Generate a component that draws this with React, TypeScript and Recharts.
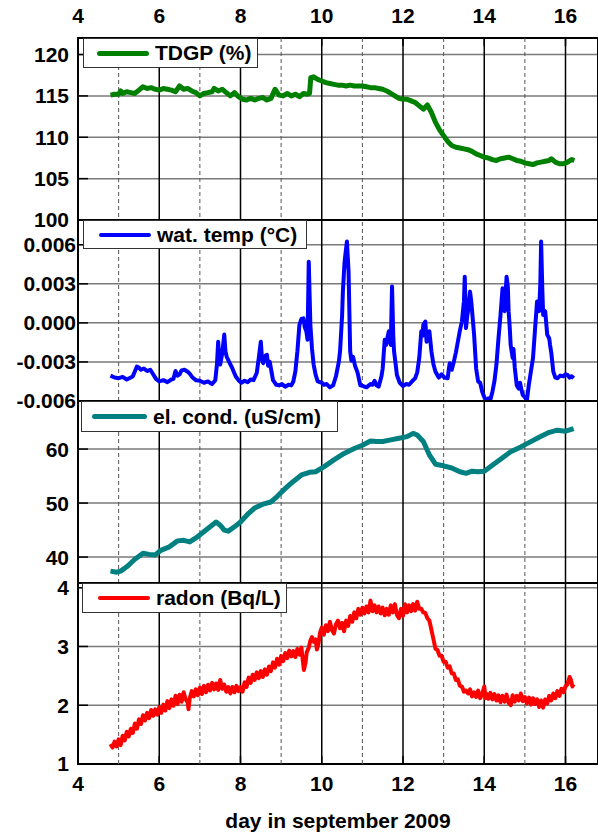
import {
  LineChart,
  Line,
  XAxis,
  YAxis,
  CartesianGrid,
  ReferenceLine,
  ReferenceArea,
  Legend,
} from "recharts";

const W = 598;
const H = 833;
const FONT = "'Liberation Sans', Arial, Helvetica, sans-serif";

const dayTicks = [4, 6, 8, 10, 12, 14, 16];
const oddDays = [5, 7, 9, 11, 13, 15];
const evenDays = [6, 8, 10, 12, 14, 16];
const xDomain: [number, number] = [4, 16.8];

// TDGP (%)
const tdgpDays = [
  4.8, 4.9, 5.0, 5.05, 5.1, 5.2, 5.3, 5.4, 5.5, 5.6, 5.7, 5.8, 5.9, 6.0, 6.1, 6.2, 6.3, 6.4, 6.5, 6.6,
  6.7, 6.8, 6.9, 7.0, 7.1, 7.2, 7.3, 7.35, 7.45, 7.55, 7.65, 7.75, 7.85, 7.95, 8.05, 8.15, 8.25, 8.35,
  8.45, 8.55, 8.65, 8.75, 8.85, 8.95, 9.05, 9.15, 9.25, 9.35, 9.45, 9.55, 9.65, 9.7, 9.73, 9.8, 9.9,
  10.0, 10.1, 10.2, 10.3, 10.4, 10.5, 10.6, 10.7, 10.8, 10.9, 11.0, 11.1, 11.2, 11.3, 11.4, 11.5, 11.6,
  11.7, 11.8, 11.9, 12.0, 12.1, 12.2, 12.3, 12.4, 12.5, 12.6, 12.7, 12.8, 12.9, 13.0, 13.1, 13.2, 13.3,
  13.4, 13.5, 13.6, 13.7, 13.8, 13.9, 14.0, 14.1, 14.2, 14.3, 14.4, 14.5, 14.6, 14.7, 14.8, 14.9, 15.0,
  15.1, 15.2, 15.3, 15.4, 15.5, 15.6, 15.65, 15.75, 15.85, 15.95, 16.05, 16.15, 16.22,
];
const tdgpValues = [
  115.1, 115.2, 115.2, 115.6, 115.3, 115.5, 115.4, 115.3, 115.7, 116.1, 115.9, 116.0, 115.8, 115.7,
  115.9, 115.8, 115.7, 115.5, 116.2, 115.8, 115.9, 115.6, 115.4, 115.0, 115.3, 115.4, 115.5, 115.9,
  115.6, 115.8, 115.4, 115.0, 115.4, 114.9, 114.6, 114.5, 114.7, 114.5, 114.7, 114.8, 114.5, 114.7,
  115.8, 115.1, 115.0, 115.3, 115.0, 115.2, 114.9, 115.3, 115.2, 115.3, 117.2, 117.3, 117.0, 116.8,
  116.6, 116.5, 116.4, 116.3, 116.3, 116.2, 116.3, 116.2, 116.2, 116.2, 116.1, 116.0, 116.0, 115.9,
  115.8, 115.6, 115.3, 115.0, 114.7, 114.6, 114.6, 114.4, 114.2, 113.8, 113.4, 113.9, 113.0, 111.8,
  110.9, 110.2, 109.5, 109.0, 108.8, 108.7, 108.6, 108.5, 108.3, 108.0, 107.8, 107.6, 107.5, 107.3,
  107.2, 107.4, 107.5, 107.6, 107.4, 107.2, 107.1, 106.9, 106.8, 106.7, 106.9, 107.0, 107.1, 107.2,
  107.4, 107.0, 106.8, 106.8, 107.0, 107.3, 107.2,
];

// water temperature, in units of 0.001 °C
const wtDays = [
  4.8, 4.9, 5.0, 5.1, 5.2, 5.3, 5.35, 5.45, 5.5, 5.55,
  5.62, 5.7, 5.78, 5.85, 5.92, 6.0, 6.1, 6.2, 6.3, 6.35,
  6.4, 6.45, 6.5, 6.55, 6.62, 6.7, 6.75, 6.82, 6.9, 7.0,
  7.1, 7.2, 7.3, 7.38, 7.42, 7.45, 7.48, 7.5, 7.55, 7.6,
  7.63, 7.66, 7.72, 7.8, 7.88, 7.95, 8.02, 8.1, 8.18, 8.25,
  8.32, 8.4, 8.45, 8.5, 8.53, 8.56, 8.62, 8.65, 8.68, 8.72,
  8.8, 8.88, 8.95, 9.02, 9.1, 9.18, 9.25, 9.3, 9.35, 9.4,
  9.45, 9.5, 9.55, 9.58, 9.62, 9.65, 9.68, 9.72, 9.76, 9.8,
  9.85, 9.9, 10.0, 10.05, 10.12, 10.2, 10.28, 10.35, 10.42, 10.45,
  10.5, 10.52, 10.56, 10.58, 10.62, 10.66, 10.7, 10.73, 10.77, 10.82,
  10.88, 10.95, 11.02, 11.1, 11.2, 11.25, 11.3, 11.35, 11.4, 11.47,
  11.5, 11.55, 11.58, 11.6, 11.65, 11.68, 11.7, 11.73, 11.76, 11.78,
  11.82, 11.85, 11.92, 12.0, 12.08, 12.15, 12.22, 12.3, 12.35, 12.4,
  12.45, 12.48, 12.5, 12.55, 12.58, 12.6, 12.65, 12.7, 12.75, 12.8,
  12.88, 12.95, 13.02, 13.1, 13.13, 13.15, 13.2, 13.25, 13.3, 13.35,
  13.4, 13.45, 13.5, 13.52, 13.55, 13.58, 13.6, 13.65, 13.68, 13.72,
  13.75, 13.8, 13.85, 13.9, 13.95, 14.0, 14.05, 14.1, 14.15, 14.2,
  14.25, 14.3, 14.35, 14.4, 14.45, 14.48, 14.5, 14.55, 14.58, 14.6,
  14.63, 14.65, 14.7, 14.72, 14.75, 14.8, 14.85, 14.88, 14.92, 14.95,
  15.0, 15.05, 15.08, 15.1, 15.15, 15.2, 15.25, 15.3, 15.35, 15.38,
  15.4, 15.43, 15.45, 15.5, 15.55, 15.6, 15.62, 15.65, 15.7, 15.75,
  15.8, 15.87, 15.95, 16.0, 16.05, 16.1, 16.15, 16.2,
];
const wtValues = [
  -4.05, -4.2, -4.25, -4.15, -4.35, -4.2, -4.1, -3.35, -3.45, -3.6,
  -3.5, -3.7, -3.6, -3.95, -4.3, -4.5, -4.4, -4.55, -4.35, -4.3,
  -3.7, -4.05, -3.95, -3.65, -3.6, -3.75, -3.9, -4.2, -4.4, -4.45,
  -4.6, -4.5, -4.7, -4.4, -3.2, -1.45, -2.9, -3.2, -2.35, -0.9,
  -2.2, -2.6, -3.0, -3.5, -4.1, -4.4, -4.6, -4.45, -4.55, -4.35,
  -4.4, -3.85, -2.7, -1.45, -2.8, -3.1, -2.5, -2.45, -3.3, -3.0,
  -4.4, -4.75, -4.8, -4.7, -4.9, -4.75, -4.8, -4.5, -3.75, -2.2,
  -0.15, 0.3, 0.35, -0.3, -0.65, -1.3, 4.7, -0.15, -2.0, -3.2,
  -4.0, -4.5, -4.6, -4.75, -4.7, -4.95, -4.8, -4.1, -3.0, -2.2,
  0.5, 2.4, 4.6, 5.2, 6.25, 3.95, -2.2, -2.9, -2.6, -3.3,
  -3.8, -4.8, -4.85, -4.95, -4.7, -4.75, -4.45, -4.8, -4.9, -4.1,
  -3.5, -1.3, -1.7, -1.4, -0.65, -1.5, -1.7, 2.8, -1.0, -2.2,
  -3.2, -4.0, -4.6, -4.85, -4.7, -4.75, -4.5, -4.25, -3.8, -2.7,
  -0.65, -1.0, -0.15, 0.1, -1.45, -1.0, -0.65, -2.2, -3.2, -3.75,
  -4.2, -3.95, -4.2, -4.25, -3.5, -3.1, -3.6, -3.0, -2.3, -1.45,
  -0.6, 0.1, 1.65, 3.55, -0.4, 0.5, 0.9, 2.4, 1.65, 0.2,
  -0.9, -3.5, -4.5, -4.6, -5.3, -5.7, -5.95, -5.8, -5.9, -5.3,
  -4.5, -3.2, -1.2, 0.6, 2.65, 1.5, 0.9, 3.55, 2.8, 0.9,
  -0.5, -1.7, -2.7, -2.0, -3.4, -4.8, -5.05, -4.6, -5.2, -5.55,
  -5.7, -5.95, -5.2, -4.7, -3.7, -2.7, -0.5, 1.65, 0.9, 3.0,
  6.25, 2.5, 0.6, 0.9, -0.9, -1.2, -1.7, -2.3, -3.75, -4.2,
  -4.25, -4.05, -4.1, -3.95, -4.0, -4.2, -4.1, -4.25,
];

// electrical conductivity (uS/cm)
const ecDays = [
  4.8, 4.95, 5.05, 5.2, 5.4, 5.6, 5.75, 5.9, 6.05, 6.25, 6.45, 6.6, 6.75, 6.95, 7.15, 7.3, 7.4, 7.5,
  7.6, 7.7, 7.85, 8.0, 8.2, 8.35, 8.55, 8.75, 8.9, 9.1, 9.3, 9.5, 9.7, 9.85, 10.05, 10.3, 10.55, 10.8,
  11.0, 11.2, 11.35, 11.5, 11.7, 11.9, 12.1, 12.25, 12.35, 12.5, 12.65, 12.8, 13.0, 13.2, 13.4, 13.55,
  13.7, 13.85, 14.0, 14.2, 14.45, 14.65, 14.9, 15.1, 15.35, 15.6, 15.8, 16.0, 16.2,
];
const ecValues = [
  37.4, 37.2, 37.4, 38.2, 39.6, 40.7, 40.5, 40.4, 41.3, 41.9, 43.0, 43.1, 42.8, 43.8, 45.0, 45.9, 46.5,
  45.9, 45.0, 44.8, 45.6, 46.5, 48.1, 49.1, 49.8, 50.2, 51.2, 52.7, 54.0, 55.2, 55.7, 55.8, 56.7, 58.0,
  59.2, 60.1, 60.7, 61.5, 61.4, 61.4, 61.7, 62.0, 62.3, 62.9, 62.6, 61.4, 58.9, 57.2, 56.9, 56.5, 55.8,
  55.5, 55.9, 55.8, 55.9, 57.0, 58.4, 59.5, 60.4, 61.2, 62.2, 63.1, 63.5, 63.3, 63.8,
];

// radon (Bq/L)
const rnDays = [
  4.8, 4.85, 4.9, 4.95, 5.0, 5.05, 5.1, 5.15, 5.2, 5.25,
  5.3, 5.35, 5.4, 5.45, 5.5, 5.55, 5.6, 5.65, 5.7, 5.75,
  5.8, 5.85, 5.9, 5.95, 6.0, 6.05, 6.1, 6.15, 6.2, 6.25,
  6.3, 6.35, 6.4, 6.45, 6.5, 6.55, 6.6, 6.65, 6.7, 6.72,
  6.75, 6.8, 6.85, 6.9, 6.95, 7.0, 7.05, 7.1, 7.15, 7.2,
  7.25, 7.3, 7.35, 7.4, 7.45, 7.5, 7.55, 7.6, 7.65, 7.7,
  7.75, 7.8, 7.85, 7.9, 7.95, 8.0, 8.05, 8.1, 8.15, 8.2,
  8.25, 8.3, 8.35, 8.4, 8.45, 8.5, 8.55, 8.6, 8.65, 8.7,
  8.75, 8.8, 8.85, 8.9, 8.95, 9.0, 9.05, 9.1, 9.15, 9.2,
  9.25, 9.3, 9.35, 9.4, 9.45, 9.5, 9.53, 9.56, 9.6, 9.63,
  9.68, 9.72, 9.76, 9.8, 9.85, 9.88, 9.92, 9.96, 10.0, 10.05,
  10.1, 10.15, 10.2, 10.25, 10.3, 10.35, 10.4, 10.45, 10.5, 10.55,
  10.6, 10.65, 10.7, 10.75, 10.8, 10.85, 10.9, 10.95, 11.0, 11.05,
  11.1, 11.15, 11.2, 11.25, 11.3, 11.35, 11.4, 11.45, 11.5, 11.55,
  11.6, 11.65, 11.7, 11.75, 11.8, 11.85, 11.9, 11.95, 12.0, 12.05,
  12.1, 12.15, 12.2, 12.25, 12.3, 12.35, 12.4, 12.45, 12.5, 12.55,
  12.6, 12.65, 12.7, 12.75, 12.8, 12.85, 12.9, 12.95, 13.0, 13.05,
  13.1, 13.15, 13.2, 13.25, 13.3, 13.35, 13.4, 13.45, 13.5, 13.55,
  13.6, 13.65, 13.7, 13.75, 13.8, 13.85, 13.9, 13.95, 14.0, 14.03,
  14.05, 14.1, 14.15, 14.2, 14.25, 14.3, 14.35, 14.4, 14.45, 14.5,
  14.55, 14.6, 14.65, 14.7, 14.75, 14.8, 14.85, 14.9, 14.95, 15.0,
  15.05, 15.1, 15.15, 15.2, 15.25, 15.3, 15.35, 15.4, 15.45, 15.5,
  15.55, 15.6, 15.65, 15.7, 15.75, 15.8, 15.85, 15.9, 15.95, 16.0,
  16.05, 16.1, 16.13, 16.17, 16.2,
];
const rnValues = [
  1.34, 1.28, 1.38, 1.3, 1.42, 1.32, 1.48, 1.4, 1.55, 1.47,
  1.6, 1.53, 1.69, 1.6, 1.76, 1.68, 1.83, 1.74, 1.87, 1.78,
  1.92, 1.82, 1.93, 1.84, 1.97, 1.87, 2.01, 1.91, 2.07, 1.95,
  2.1, 1.99, 2.16, 2.02, 2.18, 2.06, 2.22, 2.1, 2.05, 1.93,
  2.12, 2.24, 2.15, 2.27, 2.17, 2.3, 2.19, 2.33, 2.22, 2.35,
  2.25, 2.38, 2.27, 2.37, 2.26, 2.43, 2.28, 2.35, 2.23, 2.31,
  2.2, 2.31, 2.22, 2.33, 2.24, 2.31, 2.23, 2.39, 2.31, 2.47,
  2.38, 2.52, 2.43, 2.56, 2.46, 2.58, 2.48, 2.61, 2.52, 2.66,
  2.58, 2.73, 2.64, 2.79, 2.69, 2.84, 2.75, 2.89, 2.8, 2.93,
  2.83, 2.92, 2.82, 2.96, 2.86, 2.98, 2.78, 2.6, 2.72, 2.9,
  2.98, 3.1, 3.16, 3.08, 3.12, 2.95, 3.05, 3.24, 3.32, 3.2,
  3.36, 3.26, 3.42, 3.28, 3.22, 3.38, 3.44, 3.31, 3.4, 3.26,
  3.44, 3.35, 3.52, 3.42, 3.58, 3.48, 3.64, 3.54, 3.66, 3.56,
  3.68, 3.58, 3.78, 3.6, 3.7, 3.58, 3.68, 3.56, 3.66, 3.53,
  3.64, 3.54, 3.7, 3.58, 3.72, 3.54, 3.48, 3.64, 3.52, 3.72,
  3.58, 3.7, 3.6, 3.72, 3.61, 3.76, 3.64, 3.64, 3.58, 3.57,
  3.48, 3.44, 3.28, 3.12, 2.96, 2.94, 2.84, 2.84, 2.74, 2.74,
  2.64, 2.66, 2.54, 2.54, 2.43, 2.44, 2.33, 2.32, 2.23, 2.25,
  2.2, 2.27, 2.15, 2.22, 2.14, 2.25, 2.12, 2.19, 2.32, 2.12,
  2.2, 2.11, 2.21, 2.1, 2.19, 2.08, 2.17, 2.05, 2.16, 2.06,
  2.18, 2.04, 2.0, 2.17, 2.06, 2.16, 2.08, 2.2, 2.07, 2.14,
  2.03, 2.13, 2.01, 2.12, 2.02, 2.1, 1.97, 2.08, 1.96, 2.1,
  2.03, 2.16, 2.08, 2.2, 2.12, 2.24, 2.16, 2.28, 2.22, 2.32,
  2.36, 2.48, 2.44, 2.32, 2.36,
];

const toRows = (days: number[], values: number[]) =>
  days.map((day, i) => ({ day, v: values[i] }));

const tickStyle = { fill: "#000", fontSize: 21, fontWeight: 700, fontFamily: FONT };

type PanelProps = {
  days: number[];
  values: number[];
  color: string;
  lineWidth: number;
  domain: [number, number];
  ticks: number[];
  minorTicks: number[];
  format?: (v: number) => string;
  plotTop: number;
  plotBottom: number;
  labelGap: number;
  legend: { text: string; left: number; top: number; width: number; height: number; pad: number; len: number };
  axis?: "top" | "bottom";
};

function Panel(p: PanelProps) {
  const lg = p.legend;
  return (
    <div style={{ position: "absolute", left: 0, top: 0 }}>
      <LineChart
        width={W}
        height={H}
        data={toRows(p.days, p.values)}
        margin={{
          top: p.axis === "top" ? 0 : p.plotTop,
          bottom: p.axis === "bottom" ? 0 : H - p.plotBottom,
          left: 0,
          right: 0,
        }}
      >
        <CartesianGrid vertical={false} stroke="#7a7a7a" strokeWidth={1.5} />
        {p.axis === "top" ? (
          <XAxis
            type="number"
            dataKey="day"
            domain={xDomain}
            ticks={dayTicks}
            allowDataOverflow
            orientation="top"
            height={p.plotTop}
            axisLine={false}
            tickSize={-8}
            tickMargin={23}
            tickLine={{ stroke: "#000", strokeWidth: 1.5 }}
            tick={tickStyle}
          />
        ) : p.axis === "bottom" ? (
          <XAxis
            type="number"
            dataKey="day"
            domain={xDomain}
            ticks={dayTicks}
            allowDataOverflow
            height={H - p.plotBottom}
            axisLine={false}
            tickSize={-8}
            tickMargin={20}
            tickLine={{ stroke: "#000", strokeWidth: 1.5 }}
            tick={tickStyle}
            label={{
              value: "day in september 2009",
              position: "insideBottom",
              offset: 5,
              fill: "#000",
              fontSize: 21,
              fontWeight: 700,
              fontFamily: FONT,
            }}
          />
        ) : (
          <XAxis type="number" dataKey="day" domain={xDomain} ticks={dayTicks} allowDataOverflow hide />
        )}
        <YAxis
          type="number"
          domain={p.domain}
          ticks={p.ticks}
          allowDataOverflow
          width={78}
          axisLine={false}
          tickSize={-10}
          tickMargin={p.labelGap}
          tickLine={{ stroke: "#000", strokeWidth: 1.5 }}
          tick={tickStyle}
          tickFormatter={p.format ?? ((v: number) => String(v))}
        />
        <YAxis
          yAxisId="leftMinor"
          type="number"
          domain={p.domain}
          ticks={p.minorTicks}
          allowDataOverflow
          mirror
          width={1}
          axisLine={false}
          tickSize={5}
          tickLine={{ stroke: "#000", strokeWidth: 1.5 }}
          tick={false}
        />
        <YAxis
          yAxisId="right"
          orientation="right"
          type="number"
          domain={p.domain}
          ticks={p.ticks}
          allowDataOverflow
          mirror
          width={1}
          axisLine={false}
          tickSize={10}
          tickLine={{ stroke: "#000", strokeWidth: 1.5 }}
          tick={false}
        />
        <YAxis
          yAxisId="rightMinor"
          orientation="right"
          type="number"
          domain={p.domain}
          ticks={p.minorTicks}
          allowDataOverflow
          mirror
          width={1}
          axisLine={false}
          tickSize={5}
          tickLine={{ stroke: "#000", strokeWidth: 1.5 }}
          tick={false}
        />
        {oddDays.map((d) => (
          <ReferenceLine key={"o" + d} x={d} stroke="#555" strokeWidth={1} strokeDasharray="4 3" />
        ))}
        {evenDays.map((d) => (
          <ReferenceLine key={"e" + d} x={d} stroke="#000" strokeWidth={1.5} />
        ))}
        <Line
          type="linear"
          dataKey="v"
          stroke={p.color}
          strokeWidth={p.lineWidth}
          strokeLinejoin="round"
          dot={false}
          isAnimationActive={false}
        />
        <ReferenceArea
          x1={xDomain[0]}
          x2={xDomain[1]}
          y1={p.domain[0]}
          y2={p.domain[1]}
          fill="none"
          stroke="#000"
          strokeWidth={2}
          ifOverflow="visible"
        />
        <Legend
          layout="horizontal"
          verticalAlign="middle"
          align="center"
          wrapperStyle={{ left: lg.left, top: lg.top, width: lg.width, height: lg.height }}
          content={() => (
            <div
              style={{
                boxSizing: "border-box",
                width: lg.width,
                height: lg.height,
                border: "1.5px solid #333",
                background: "#fff",
                display: "flex",
                alignItems: "center",
                paddingLeft: lg.pad,
                fontFamily: FONT,
                fontWeight: 700,
                fontSize: 21,
                color: "#000",
                whiteSpace: "nowrap",
              }}
            >
              <span
                style={{
                  display: "inline-block",
                  width: lg.len,
                  height: p.lineWidth,
                  background: p.color,
                  borderRadius: p.lineWidth / 2,
                  marginRight: 6,
                }}
              />
              {lg.text}
            </div>
          )}
        />
      </LineChart>
    </div>
  );
}

export default function App() {
  return (
    <div
      style={{
        position: "absolute",
        left: 0,
        top: 0,
        width: W,
        height: H,
        background: "#fff",
        overflow: "hidden",
      }}
    >
      <Panel
        days={tdgpDays}
        values={tdgpValues}
        color="#008000"
        lineWidth={5}
        domain={[100, 122]}
        ticks={[100, 105, 110, 115, 120]}
        minorTicks={[102.5, 107.5, 112.5, 117.5]}
        plotTop={38}
        plotBottom={220}
        labelGap={19}
        legend={{ text: "TDGP (%)", left: 83, top: 38, width: 175, height: 30, pad: 13, len: 52 }}
        axis="top"
      />
      <Panel
        days={wtDays}
        values={wtValues}
        color="#0000ff"
        lineWidth={4}
        domain={[-6, 7.9]}
        ticks={[-6, -3, 0, 3, 6]}
        minorTicks={[-4.5, -1.5, 1.5, 4.5]}
        format={(v: number) => (v / 1000).toFixed(3)}
        plotTop={220}
        plotBottom={401}
        labelGap={12}
        legend={{ text: "wat. temp (°C)", left: 83, top: 220, width: 224, height: 29, pad: 15, len: 52 }}
      />
      <Panel
        days={ecDays}
        values={ecValues}
        color="#008080"
        lineWidth={5}
        domain={[35.2, 68.9]}
        ticks={[40, 50, 60]}
        minorTicks={[45, 55, 65]}
        plotTop={401}
        plotBottom={583}
        labelGap={19}
        legend={{ text: "el. cond. (uS/cm)", left: 81, top: 401, width: 257, height: 31, pad: 10, len: 55 }}
      />
      <Panel
        days={rnDays}
        values={rnValues}
        color="#ff0000"
        lineWidth={4}
        domain={[1, 4.08]}
        ticks={[1, 2, 3, 4]}
        minorTicks={[1.5, 2.5, 3.5]}
        plotTop={583}
        plotBottom={764}
        labelGap={19}
        legend={{ text: "radon (Bq/L)", left: 82, top: 583, width: 205, height: 30, pad: 15, len: 52 }}
        axis="bottom"
      />
    </div>
  );
}
